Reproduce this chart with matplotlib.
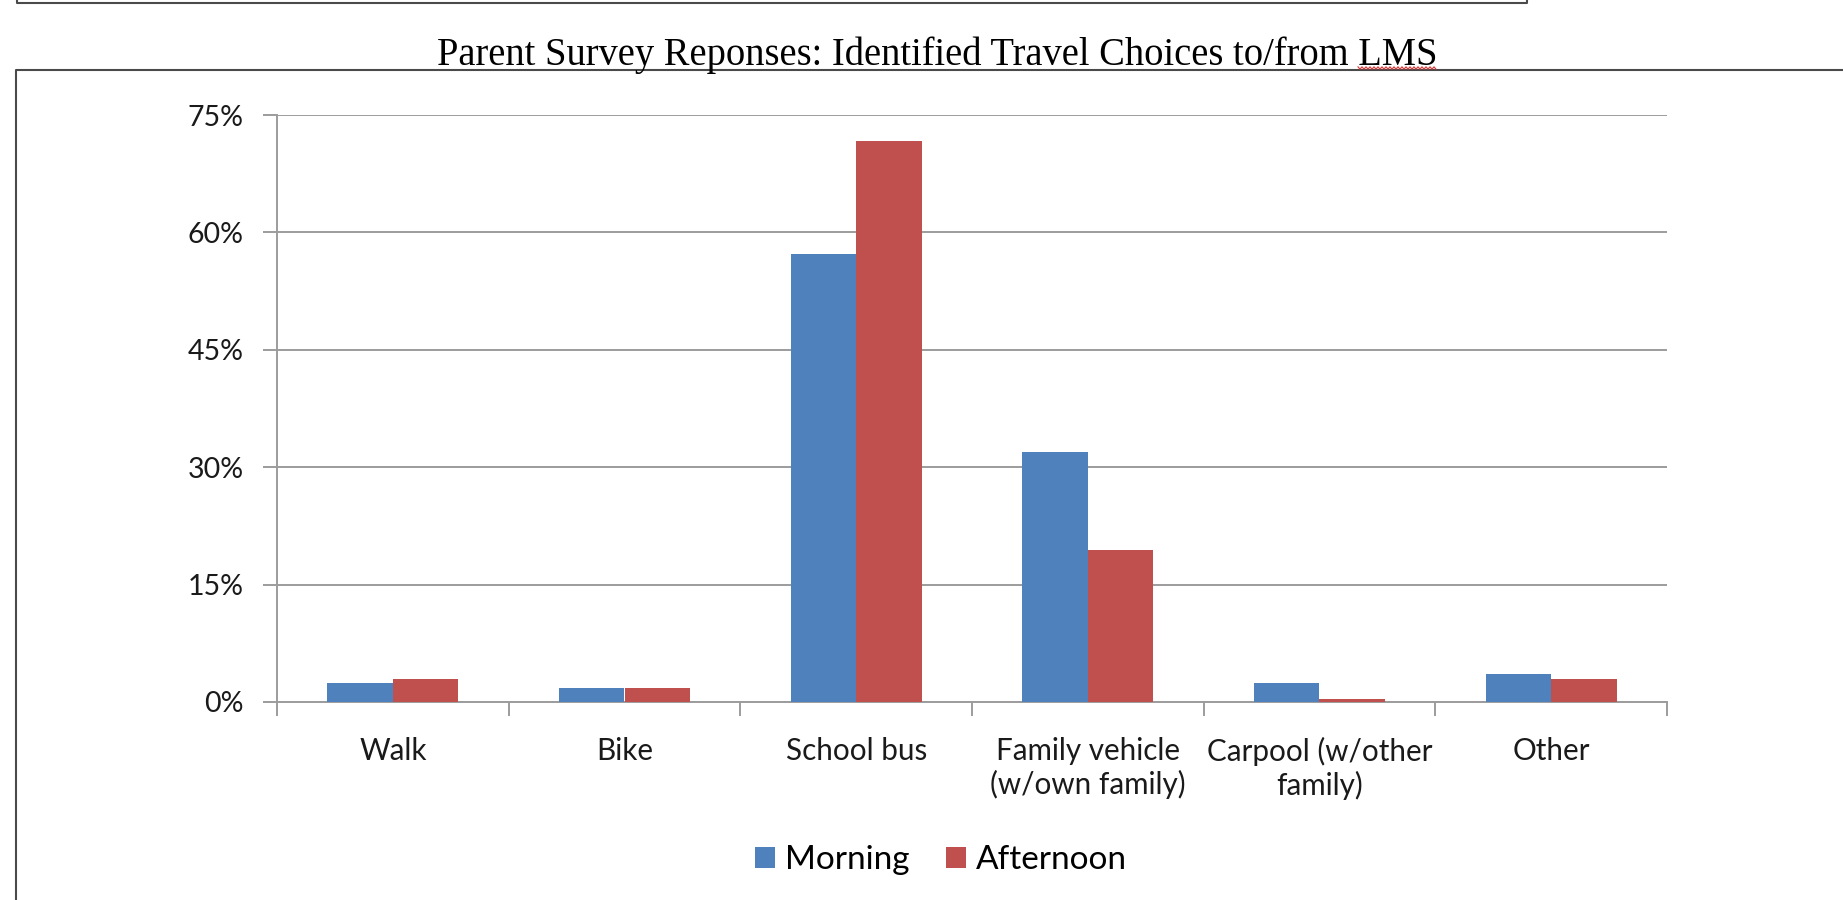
import numpy as np
import matplotlib
matplotlib.use("Agg")
import matplotlib.pyplot as plt
from matplotlib.ticker import FuncFormatter
from matplotlib.lines import Line2D

# survey data (share of responses)
categories = ["Walk", "Bike", "School bus", "Family vehicle\n(w/own family)",
              "Carpool (w/other\nfamily)", "Other"]
morning = [0.024, 0.018, 0.573, 0.320, 0.024, 0.036]
afternoon = [0.030, 0.018, 0.717, 0.194, 0.004, 0.030]
series_names = ["Morning", "Afternoon"]
yticks = [0, 0.15, 0.30, 0.45, 0.60, 0.75]

blue = "#4F81BD"
red = "#C0504D"
grid_col = "#9C9C9C"
txt_col = "#1a1a1a"

plt.rcParams["font.family"] = ["Lato", "DejaVu Sans"]

fig = plt.figure(figsize=(18.43, 9.0), dpi=100)
W, H = 1843, 900

# leftover box from the page above + chart frame
fig.add_artist(Line2D([17 / W, 17 / W, 1527 / W, 1527 / W], [1, 1 - 3 / H, 1 - 3 / H, 1],
                      color="#4a4a4a", lw=1.5))
fig.add_artist(Line2D([1, 16 / W, 16 / W], [1 - 70 / H, 1 - 70 / H, 0],
                      color="#4a4a4a", lw=1.5))

ax = fig.add_axes([277 / W, 1 - 702 / H, (1667 - 277) / W, (702 - 115) / H])

x = np.arange(len(categories))
bw = 0.283
ax.bar(x - bw / 2, morning, bw, color=blue, label=series_names[0], zorder=3)
ax.bar(x + bw / 2, afternoon, bw, color=red, label=series_names[1], zorder=3)

ax.set_xlim(-0.5, len(categories) - 0.5)
ax.set_ylim(0, 0.75)
ax.set_yticks(yticks)
ax.yaxis.set_major_formatter(FuncFormatter(lambda v, p: "{:.0f}%".format(v * 100)))
ax.tick_params(axis="y", length=10, width=1.4, color=grid_col, pad=14,
               labelsize=20.5, labelcolor=txt_col)

ax.set_xticks(x)
ax.set_xticklabels(categories, fontsize=21.3, color=txt_col, linespacing=1.2)
ax.tick_params(axis="x", which="major", length=0, pad=25)
ax.set_xticks(np.arange(-0.5, len(categories)), minor=True)
ax.tick_params(axis="x", which="minor", length=10, width=1.4, color=grid_col)

for s in ["top", "right"]:
    ax.spines[s].set_visible(False)
for s in ["left", "bottom"]:
    ax.spines[s].set_color(grid_col)
    ax.spines[s].set_linewidth(1.4)
ax.yaxis.grid(True, color=grid_col, linewidth=1.4, zorder=0)
ax.set_axisbelow(True)

fig.legend(loc="center", bbox_to_anchor=(941 / W, 1 - 860 / H), ncol=2, frameon=False,
           fontsize=24, handlelength=0.6, handleheight=0.6, handletextpad=0.3,
           columnspacing=1.1)

title = fig.text(937 / W, 1 - 65 / H,
                 "Parent Survey Reponses: Identified Travel Choices to/from LMS",
                 ha="center", va="baseline", fontsize=27.75, color="#000000",
                 family="Liberation Serif")

# red spell-check squiggle under "LMS"
fig.canvas.draw()
r = fig.canvas.get_renderer()
tb = title.get_window_extent(r)
tmp = fig.text(0, 0, "LMS", fontsize=27.75, family="Liberation Serif")
lw_px = tmp.get_window_extent(r).width
tmp.remove()
xs = np.arange(tb.x1 - lw_px, tb.x1, 2.0)
ys = (H - 68) + np.where(np.arange(len(xs)) % 2 == 0, 1.2, -1.2)
fig.add_artist(Line2D(xs / W, ys / H, color="#e03030", lw=0.8))

fig.savefig("out.png", dpi=100)
